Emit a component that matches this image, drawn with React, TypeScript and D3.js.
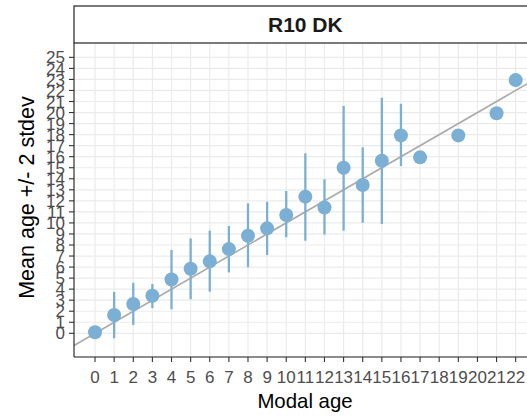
import React from "react";
import * as d3 from "d3";

const modalAges = [0, 1, 2, 3, 4, 5, 6, 7, 8, 9, 10, 11, 12, 13, 14, 15, 16, 17, 19, 21, 22];
const meanAges = [0.09, 1.66, 2.65, 3.4, 4.87, 5.85, 6.52, 7.63, 8.84, 9.51, 10.72, 12.38, 11.4, 15.0, 13.43, 15.63, 17.93, 15.94, 17.93, 19.93, 22.94];
const upperVals = [null, 3.75, 4.58, 4.47, 7.55, 8.6, 9.3, 9.72, 11.78, 11.92, 12.89, 16.3, 13.95, 20.6, 16.85, 21.34, 20.8, null, null, null, null];
const lowerVals = [null, -0.45, 0.75, 2.28, 2.17, 3.08, 3.77, 5.52, 5.98, 7.09, 8.7, 8.39, 8.95, 9.3, 10.02, 9.9, 15.15, null, null, null, null];
const xTicks = d3.range(0, 23);
const yTicks = d3.range(0, 26);
const panelTitle = "R10 DK";
const xTitle = "Modal age";
const yTitle = "Mean age +/- 2 stdev";

const W = 527;
const H = 419;
const left = 74;
const right = 536.7;
const top = 43;
const bottom = 357;
const stripTop = 6;

export default function App() {
  const x = d3.scaleLinear().domain([-1.1, 23.1]).range([left, right]);
  const y = d3.scaleLinear().domain([-2.147, 26.3]).range([bottom, top]);
  const col = "#7bafd4";
  const data = modalAges.map((m, i) => ({ m, mean: meanAges[i], up: upperVals[i], lo: lowerVals[i] }));
  const ref = d3.line<number>().x((d) => x(d)).y((d) => y(d));
  const font = "'Liberation Sans', Arial, sans-serif";
  return (
    <svg width={W} height={H} style={{ position: "absolute", left: 0, top: 0, background: "#fff" }} fontFamily={font}>
      <rect x={0} y={0} width={W} height={H} fill="#fff" />
      {/* grid */}
      {xTicks.map((t) => (
        <line key={"gx" + t} x1={x(t)} x2={x(t)} y1={top} y2={bottom} stroke="#ebebeb" strokeWidth={1.2} />
      ))}
      {yTicks.map((t) => (
        <line key={"gy" + t} x1={left} x2={right} y1={y(t)} y2={y(t)} stroke="#ebebeb" strokeWidth={1.2} />
      ))}
      {/* reference line */}
      <path d={ref([-1.1, 23.1]) || ""} stroke="#aaaaaa" strokeWidth={1.6} fill="none" />
      {/* error bars */}
      {data.filter((d) => d.up != null && d.lo != null).map((d) => (
        <line key={"e" + d.m} x1={x(d.m)} x2={x(d.m)} y1={y(d.up as number)} y2={y(d.lo as number)} stroke={col} strokeWidth={2.3} />
      ))}
      {/* points */}
      {data.map((d) => (
        <circle key={"p" + d.m} cx={x(d.m)} cy={y(d.mean)} r={7} fill={col} />
      ))}
      {/* axes */}
      <line x1={left} x2={left} y1={top} y2={bottom} stroke="#1a1a1a" strokeWidth={1.1} />
      <line x1={left} x2={right} y1={bottom} y2={bottom} stroke="#1a1a1a" strokeWidth={1.1} />
      {yTicks.map((t) => (
        <g key={"yt" + t}>
          <line x1={left - 5} x2={left} y1={y(t)} y2={y(t)} stroke="#333" strokeWidth={1.1} />
          <text x={left - 9} y={y(t)} dy="0.36em" textAnchor="end" fontSize={17} fill="#4d4d4d">{t}</text>
        </g>
      ))}
      {xTicks.map((t) => (
        <g key={"xt" + t}>
          <line x1={x(t)} x2={x(t)} y1={bottom} y2={bottom + 5} stroke="#333" strokeWidth={1.1} />
          <text x={x(t)} y={bottom + 26} textAnchor="middle" fontSize={17} fill="#4d4d4d">{t}</text>
        </g>
      ))}
      {/* strip */}
      <rect x={left} y={stripTop} width={right - left} height={top - stripTop} fill="#fff" stroke="#333" strokeWidth={1.3} />
      <text x={(left + right) / 2} y={(stripTop + top) / 2} dy="0.36em" textAnchor="middle" fontSize={21} fontWeight="bold" fill="#1a1a1a">{panelTitle}</text>
      {/* titles */}
      <text x={305} y={407.5} textAnchor="middle" fontSize={20.4} fill="#000">{xTitle}</text>
      <text transform={`translate(34, 197.5) rotate(-90)`} textAnchor="middle" fontSize={21.5} fill="#000">{yTitle}</text>
    </svg>
  );
}
